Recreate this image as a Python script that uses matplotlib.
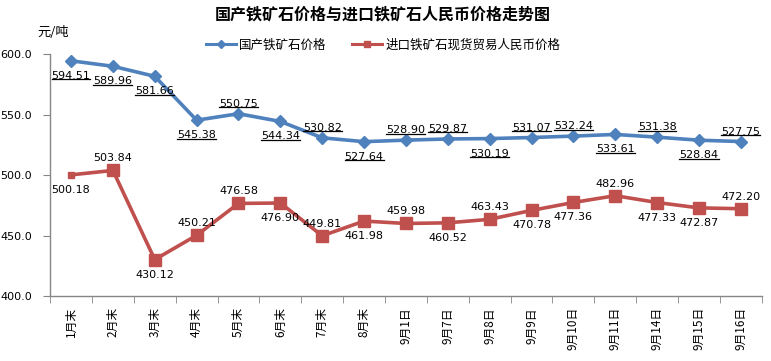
import matplotlib
matplotlib.use("Agg")
import matplotlib.pyplot as plt
from matplotlib.lines import Line2D

plt.rcParams['font.family'] = ['DejaVu Sans', 'Noto Sans CJK SC']

categories = ["1月末", "2月末", "3月末", "4月末", "5月末", "6月末", "7月末", "8月末",
              "9月1日", "9月7日", "9月8日", "9月9日", "9月10日", "9月11日", "9月14日", "9月15日", "9月16日"]
domestic = [594.51, 589.96, 581.66, 545.38, 550.75, 544.34, 530.82, 527.64,
            528.90, 529.87, 530.19, 531.07, 532.24, 533.61, 531.38, 528.84, 527.75]
imported = [500.18, 503.84, 430.12, 450.21, 476.58, 476.90, 449.81, 461.98,
            459.98, 460.52, 463.43, 470.78, 477.36, 482.96, 477.33, 472.87, 472.20]
# label placement: 1 above, -1 below
dom_pos = [-1, -1, -1, -1, 1, -1, 1, -1, 1, 1, -1, 1, 1, -1, 1, -1, 1]
imp_pos = [-1, 1, -1, 1, 1, -1, 1, -1, 1, -1, 1, -1, -1, 1, -1, -1, 1]
yticks = [400, 450, 500, 550, 600]

blue = "#4F81BD"
red = "#C0504D"
cjk = ['Noto Sans CJK SC', 'DejaVu Sans']

fig = plt.figure(figsize=(7.71, 3.61), dpi=100)
ax = fig.add_axes([0.065, 0.18, 0.923, 0.67])

x = list(range(len(categories)))
ax.plot(x, domestic, color=blue, lw=2.6, marker='D', ms=6, mec=blue, mfc=blue, zorder=3)
ax.plot(x[1:], imported[1:], color=red, lw=2.6, marker='s', ms=8, mec=red, mfc=red, zorder=3)
ax.plot(x[:2], imported[:2], color=red, lw=2.6, zorder=3)
ax.plot(x[:1], imported[:1], color=red, marker='s', ms=5, ls='none', zorder=3)

dom_texts = []
for i, v in enumerate(domestic):
    off = 5 if dom_pos[i] > 0 else -10
    t = ax.annotate('%.2f' % v, (i, v), xytext=(0, off), textcoords='offset pixels',
                    ha='center', va='bottom' if off > 0 else 'top', fontsize=8, color='black')
    dom_texts.append(t)
for i, v in enumerate(imported):
    off = 7 if imp_pos[i] > 0 else -10
    ax.annotate('%.2f' % v, (i, v), xytext=(0, off), textcoords='offset pixels',
                ha='center', va='bottom' if off > 0 else 'top', fontsize=8, color='black')

ax.set_xlim(-0.5, len(categories) - 0.5)
ax.set_ylim(400, 600)
ax.set_yticks(yticks)
ax.set_yticklabels(['%.1f' % t for t in yticks], fontsize=8)
ax.set_xticks(x)
ax.set_xticklabels(categories, rotation=90, fontsize=8.5, family=cjk)
ax.set_xticks([i + 0.5 for i in range(-1, len(categories))], minor=True)
ax.tick_params(axis='x', which='major', length=0, pad=8)
ax.tick_params(axis='x', which='minor', length=5, color='#868686', direction='out')
ax.tick_params(axis='y', length=5, color='#868686', direction='out', pad=8)

for s in ['top', 'right']:
    ax.spines[s].set_visible(False)
for s in ['left', 'bottom']:
    ax.spines[s].set_color('#868686')
    ax.spines[s].set_linewidth(1)

fig.text(0.497, 0.96, "国产铁矿石价格与进口铁矿石人民币价格走势图", ha='center', va='center',
         fontsize=11.5, fontweight='bold', family=cjk)
fig.text(0.048, 0.91, "元/吨", ha='left', va='center', fontsize=9.5, family=cjk)

handles = [Line2D([0], [0], color=blue, lw=2.2, marker='D', ms=4.5),
           Line2D([0], [0], color=red, lw=2.2, marker='s', ms=5)]
leg = fig.legend(handles, ["国产铁矿石价格", "进口铁矿石现货贸易人民币价格"], loc='center',
                 bbox_to_anchor=(0.497, 0.875), ncol=2, frameon=False, handlelength=2.4,
                 handletextpad=0.3, columnspacing=2.0, prop={'family': cjk, 'size': 9})

# underline the domestic-price labels (derived from rendered text extents)
fig.canvas.draw()
renderer = fig.canvas.get_renderer()
W, H = fig.bbox.width, fig.bbox.height
for t in dom_texts:
    bb = t.get_window_extent(renderer)
    yy = (bb.y0 + 1.5) / H
    fig.add_artist(Line2D([(bb.x0) / W, (bb.x1) / W], [yy, yy],
                          transform=fig.transFigure, color='black', lw=0.9))

fig.savefig("out.png", dpi=100)
